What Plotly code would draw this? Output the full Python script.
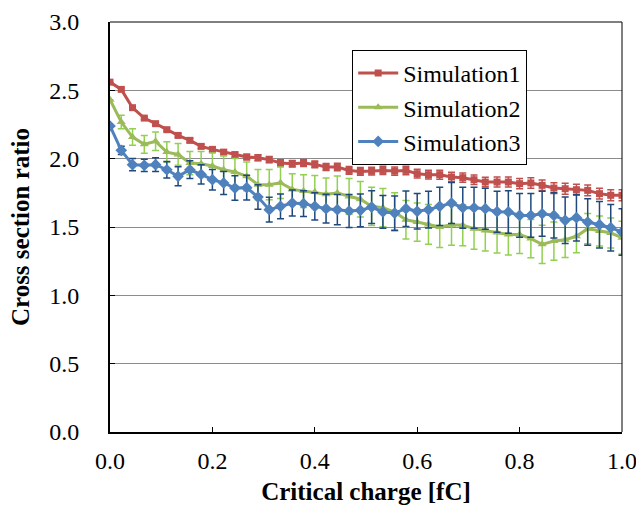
import plotly.graph_objects as go

charge = [0.0, 0.022, 0.044, 0.067, 0.089, 0.111, 0.133, 0.156, 0.178, 0.2,
          0.222, 0.244, 0.267, 0.289, 0.311, 0.333, 0.356, 0.378, 0.4, 0.422,
          0.444, 0.467, 0.489, 0.511, 0.533, 0.556, 0.578, 0.6, 0.622, 0.644,
          0.667, 0.689, 0.711, 0.733, 0.756, 0.778, 0.8, 0.822, 0.844, 0.867,
          0.889, 0.911, 0.933, 0.956, 0.978, 1.0]

sim1 = [2.56, 2.507, 2.373, 2.297, 2.256, 2.212, 2.17, 2.134, 2.09, 2.068,
        2.048, 2.029, 2.012, 2.007, 1.993, 1.968, 1.963, 1.968, 1.958, 1.939,
        1.939, 1.914, 1.907, 1.909, 1.914, 1.909, 1.914, 1.89, 1.883, 1.883,
        1.866, 1.861, 1.846, 1.829, 1.829, 1.829, 1.817, 1.822, 1.805, 1.785,
        1.78, 1.773, 1.768, 1.744, 1.732, 1.732]
sim1_err = [0.0, 0.01, 0.01, 0.01, 0.012, 0.012, 0.014, 0.015, 0.016, 0.017,
            0.018, 0.02, 0.02, 0.022, 0.022, 0.024, 0.024, 0.025, 0.025, 0.026,
            0.027, 0.028, 0.028, 0.029, 0.03, 0.03, 0.031, 0.032, 0.032, 0.033,
            0.034, 0.034, 0.035, 0.035, 0.036, 0.036, 0.037, 0.038, 0.038, 0.039,
            0.04, 0.04, 0.04, 0.04, 0.04, 0.04]

sim2 = [2.432, 2.268, 2.158, 2.105, 2.127, 2.048, 2.031, 1.968, 1.963, 1.946,
        1.919, 1.902, 1.871, 1.81, 1.81, 1.824, 1.775, 1.763, 1.756, 1.739,
        1.749, 1.724, 1.703, 1.651, 1.641, 1.61, 1.553, 1.536, 1.519, 1.5,
        1.517, 1.512, 1.488, 1.475, 1.46, 1.446, 1.446, 1.415, 1.373, 1.397,
        1.407, 1.432, 1.488, 1.471, 1.456, 1.422]
sim2_err = [0.0, 0.05, 0.06, 0.065, 0.068, 0.075, 0.08, 0.085, 0.09, 0.095,
            0.1, 0.1, 0.105, 0.11, 0.11, 0.115, 0.115, 0.12, 0.12, 0.12,
            0.125, 0.13, 0.13, 0.14, 0.14, 0.14, 0.14, 0.14, 0.145, 0.15,
            0.15, 0.15, 0.15, 0.15, 0.15, 0.15, 0.14, 0.14, 0.14, 0.14,
            0.13, 0.12, 0.11, 0.11, 0.11, 0.12]

sim3 = [2.239, 2.061, 1.956, 1.951, 1.956, 1.919, 1.871, 1.919, 1.885, 1.846,
        1.822, 1.785, 1.788, 1.719, 1.627, 1.651, 1.675, 1.671, 1.651, 1.634,
        1.627, 1.617, 1.622, 1.646, 1.61, 1.602, 1.634, 1.615, 1.627, 1.651,
        1.675, 1.641, 1.641, 1.634, 1.612, 1.61, 1.585, 1.585, 1.597, 1.585,
        1.549, 1.568, 1.536, 1.517, 1.495, 1.463]
sim3_err = [0.0, 0.03, 0.045, 0.045, 0.05, 0.06, 0.07, 0.065, 0.07, 0.075,
            0.085, 0.09, 0.09, 0.09, 0.09, 0.09, 0.095, 0.095, 0.1, 0.105,
            0.11, 0.12, 0.12, 0.12, 0.12, 0.125, 0.13, 0.13, 0.135, 0.14,
            0.15, 0.15, 0.15, 0.15, 0.15, 0.155, 0.16, 0.16, 0.165, 0.165,
            0.17, 0.17, 0.17, 0.17, 0.17, 0.17]

names = ["Simulation1", "Simulation2", "Simulation3"]

FONT = "Liberation Serif"

fig = go.Figure()
series = [
    (sim1, sim1_err, "#C0504D", "#C0504D", "square", 7),
    (sim2, sim2_err, "#9BBB59", "#92D050", "triangle-up", 8),
    (sim3, sim3_err, "#4F81BD", "#1F497D", "diamond", 9),
]
for name, (vals, err, col, ecol, sym, ms) in zip(names, series):
    fig.add_trace(go.Scatter(
        x=charge, y=vals, name=name, mode="lines+markers",
        line=dict(color=col, width=3),
        marker=dict(symbol=sym, size=ms, color=col),
        error_y=dict(type="data", array=err, visible=True, color=ecol,
                     thickness=1.5, width=3.5),
    ))

fig.update_layout(
    width=636, height=506,
    margin=dict(l=110, r=14, t=22, b=74, autoexpand=False),
    paper_bgcolor="white", plot_bgcolor="white",
    font=dict(family=FONT, size=24, color="black"),
    showlegend=True,
    legend=dict(x=0.473, y=0.932, xanchor="left", yanchor="top",
                bgcolor="white", bordercolor="black", borderwidth=1,
                font=dict(family=FONT, size=24), tracegroupgap=0,
                itemwidth=40),
    shapes=[
        dict(type="line", xref="paper", yref="paper", x0=0, x1=1, y0=1, y1=1,
             line=dict(color="black", width=1)),
        dict(type="line", xref="paper", yref="paper", x0=1, x1=1, y0=0, y1=1,
             line=dict(color="black", width=1)),
    ],
)
fig.update_xaxes(
    range=[0, 1.0], dtick=0.2, tick0=0, tickformat=".1f",
    ticks="inside", ticklen=5, tickcolor="black", tickwidth=1,
    showline=True, linecolor="black", linewidth=2,
    showgrid=False, zeroline=False, ticklabelstandoff=6,
    automargin=False, ticklabeloverflow="allow",
    tickfont=dict(family=FONT, size=24),
    title=dict(text="<b>Critical charge [fC]</b>", standoff=10,
               font=dict(family=FONT, size=25)),
)
fig.update_yaxes(
    range=[0, 3.0], dtick=0.5, tick0=0, tickformat=".1f",
    ticks="inside", ticklen=5, tickcolor="black", tickwidth=1,
    showline=True, linecolor="black", linewidth=2,
    showgrid=True, gridcolor="#8c8c8c", gridwidth=1,
    zeroline=False, ticklabelstandoff=24,
    automargin=False, ticklabeloverflow="allow",
    tickfont=dict(family=FONT, size=24),
    title=dict(text="<b>Cross section ratio</b>", standoff=12,
               font=dict(family=FONT, size=25)),
)

fig.write_html(
    "out.html",
    config={"displayModeBar": False},
    post_script="document.body.style.margin='0';document.body.style.overflow='hidden';",
)
